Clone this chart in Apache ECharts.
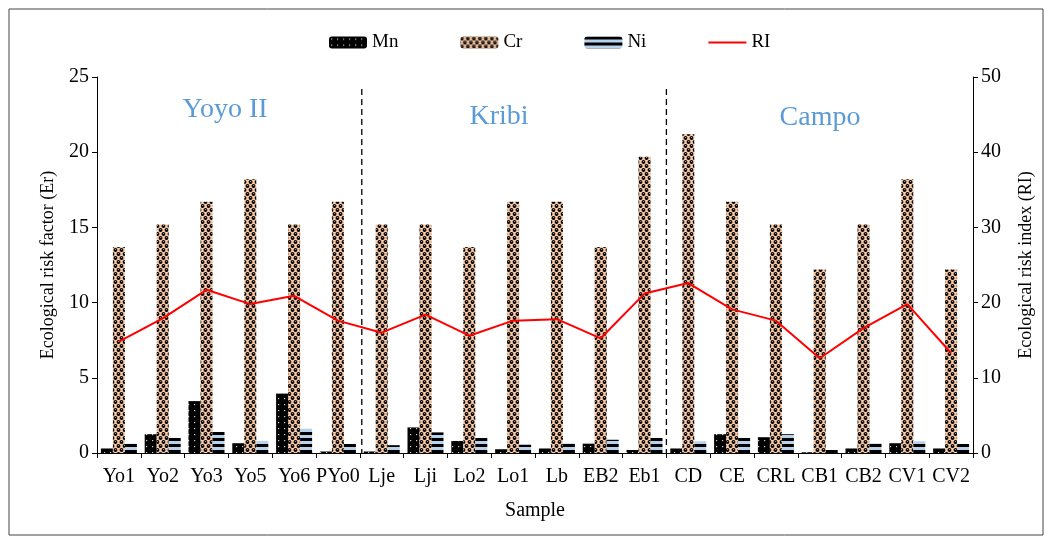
<!DOCTYPE html>
<html><head><meta charset="utf-8">
<script src="https://cdn.jsdelivr.net/npm/echarts@6/dist/echarts.min.js"></script>
<style>html,body{margin:0;padding:0;background:#fff}#c{width:1052px;height:542px}</style>
</head><body><div id="c"></div>
<script>
const categories = ['Yo1','Yo2','Yo3','Yo5','Yo6','PYo0','Lje','Lji','Lo2','Lo1','Lb','EB2','Eb1','CD','CE','CRL','CB1','CB2','CV1','CV2'];
const mnValues = [0.3,1.25,3.45,0.65,3.95,0.1, 0.1,1.7,0.8,0.25,0.3,0.62,0.2, 0.3,1.25,1.05,0.05,0.3,0.65,0.3];
const crValues = [13.7,15.2,16.7,18.2,15.2,16.7, 15.2,15.2,13.7,16.7,16.7,13.7,19.7, 21.2,16.7,15.2,12.2,15.2,18.2,12.2];
const niValues = [0.62,1.0,1.4,0.8,1.6,0.6, 0.52,1.37,1.0,0.55,0.64,0.88,1.0, 0.78,1.0,1.25,0.2,0.64,0.78,0.6];
const riValues = [14.8,17.9,21.7,19.8,20.9,17.6, 16.0,18.4,15.6,17.6,17.8,15.25,21.2, 22.6,19.1,17.6,12.6,16.6,19.8,13.3];
const regionLabels = ['Yoyo II','Kribi','Campo'];
const leftTicks = {min:0,max:25,interval:5};
const rightTicks = {min:0,max:50,interval:10};

function mkCanvas(w,h,draw){const c=document.createElement('canvas');c.width=w;c.height=h;draw(c.getContext('2d'));return c;}
const PEACH='#f8c9a6';
const mnPat = mkCanvas(6,6,g=>{g.fillStyle='#000';g.fillRect(0,0,6,6);g.fillStyle='#cfcfcf';g.fillRect(2,2,1.2,1.2);});
const crPat = mkCanvas(6,8,g=>{g.fillStyle=PEACH;g.fillRect(0,0,6,8);g.fillStyle='#000';
  [[1.5,2],[4.5,6],[7.5,2],[-1.5,6],[1.5,10],[4.5,-2]].forEach(p=>{g.beginPath();g.arc(p[0],p[1],1.9,0,Math.PI*2);g.fill();});
  g.fillStyle=PEACH;g.fillRect(1,1.2,1.2,0.7);g.fillRect(4,5.2,1.2,0.7);});
const niPat = mkCanvas(4,6,g=>{g.fillStyle='#000';g.fillRect(0,0,4,3);g.fillStyle='#b7d2ec';g.fillRect(0,3,4,3);});

const serif = 'Liberation Serif';
const chart = echarts.init(document.getElementById('c'));
const axisStyle = {lineStyle:{color:'#000',width:1}};
chart.setOption({
  animation:false,
  backgroundColor:'#fff',
  textStyle:{fontFamily:serif},
  legend:{top:28,left:324,itemWidth:38,itemHeight:12,itemGap:62,
    textStyle:{fontFamily:serif,fontSize:19,color:'#000'},
    data:['Mn','Cr','Ni',{name:'RI',icon:'path://M0,0L40,0L40,2L0,2Z'}]},
  grid:{left:97,right:79,top:77,bottom:89},
  xAxis:{type:'category',data:categories,
    axisLine:axisStyle,axisTick:{show:true,length:5,lineStyle:{color:'#000'}},
    axisLabel:{fontFamily:serif,fontSize:20,color:'#000',margin:14,interval:0},
    name:'Sample',nameLocation:'middle',nameGap:48,
    nameTextStyle:{fontFamily:serif,fontSize:20,color:'#000'}},
  yAxis:[
    {type:'value',min:leftTicks.min,max:leftTicks.max,interval:leftTicks.interval,
     axisLine:{show:true,lineStyle:{color:'#000'}},axisTick:{show:true,length:5,lineStyle:{color:'#000'}},
     splitLine:{show:false},axisLabel:{fontFamily:serif,fontSize:20,color:'#000',margin:8},
     name:'Ecological risk factor (Er)',nameLocation:'middle',nameGap:40,
     nameTextStyle:{fontFamily:serif,fontSize:18,color:'#000'}},
    {type:'value',min:rightTicks.min,max:rightTicks.max,interval:rightTicks.interval,position:'right',
     axisLine:{show:true,lineStyle:{color:'#000'}},axisTick:{show:true,length:5,lineStyle:{color:'#000'}},
     splitLine:{show:false},axisLabel:{fontFamily:serif,fontSize:20,color:'#000',margin:8},
     name:'Ecological risk index (RI)',nameLocation:'middle',nameGap:44,
     nameTextStyle:{fontFamily:serif,fontSize:18,color:'#000'}}
  ],
  series:[
    {name:'Mn',type:'bar',data:mnValues,barWidth:12,barGap:'0%',itemStyle:{color:{image:mnPat,repeat:'repeat'}}},
    {name:'Cr',type:'bar',data:crValues,barWidth:12,barGap:'0%',itemStyle:{color:{image:crPat,repeat:'repeat'}}},
    {name:'Ni',type:'bar',data:niValues,barWidth:12,barGap:'0%',itemStyle:{color:{image:niPat,repeat:'repeat'}}},
    {name:'RI',type:'line',yAxisIndex:1,data:riValues,symbol:'none',lineStyle:{color:'#ff0000',width:2},itemStyle:{color:'#ff0000'}}
  ]
});

function boundaryX(a,b){return (chart.convertToPixel({xAxisIndex:0},a)+chart.convertToPixel({xAxisIndex:0},b))/2;}
const y0 = chart.convertToPixel({yAxisIndex:0},0);
const x1 = boundaryX('PYo0','Lje')+2, x2 = boundaryX('Eb1','CD');
const lblStyle = {fontFamily:serif,fontSize:28,fill:'#5b9bd5',textAlign:'center',textVerticalAlign:'middle'};
chart.setOption({graphic:[
  {type:'rect',shape:{x:9,y:9,width:1034,height:526},style:{fill:null,stroke:'#444',lineWidth:1},silent:true},
  {type:'line',shape:{x1:x1,y1:89,x2:x1,y2:y0},style:{stroke:'#000',lineWidth:1.3,lineDash:[6,4]}},
  {type:'line',shape:{x1:x2,y1:89,x2:x2,y2:y0},style:{stroke:'#000',lineWidth:1.3,lineDash:[6,4]}},
  {type:'text',x:225,y:110,style:Object.assign({text:regionLabels[0]},lblStyle)},
  {type:'text',x:499,y:117,style:Object.assign({text:regionLabels[1]},lblStyle)},
  {type:'text',x:820,y:118,style:Object.assign({text:regionLabels[2]},lblStyle)}
]});
</script></body></html>
